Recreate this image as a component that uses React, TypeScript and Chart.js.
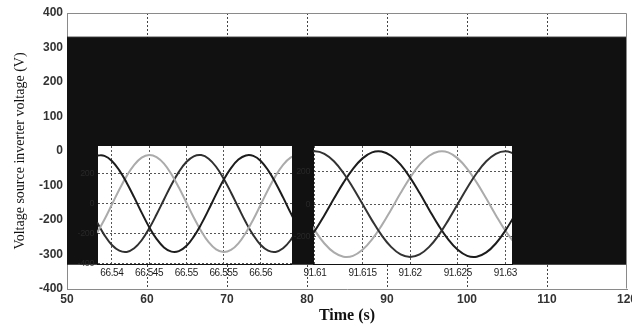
import React, { useEffect, useRef } from "react";
import { Chart, registerables } from "chart.js";
Chart.register(...registerables);

// ---------- main chart data ----------
const mainXMin = 50;
const mainXMax = 120;
const mainYMin = -400;
const mainYMax = 400;
const envelopeTime = [50, 120];
const envelopeUpper = [330, 330];
const envelopeLower = -330;

// ---------- inset 1 (66.54 s zoom) ----------
const inset1Time = [
  66.538, 66.539, 66.54, 66.541, 66.542, 66.543, 66.544, 66.545, 66.546, 66.547,
  66.548, 66.549, 66.55, 66.551, 66.552, 66.553, 66.554, 66.555, 66.556, 66.557,
  66.558, 66.559, 66.56, 66.561, 66.562, 66.563, 66.564, 66.565,
];
const inset1PhaseA = [
  322, 319, 285, 222, 138, 41, -61, -157, -237, -294, -322, -319, -285, -222,
  -138, -41, 61, 157, 237, 294, 322, 319, 285, 222, 138, 41, -61, -157,
];
const inset1PhaseB = [
  -196, -107, -7, 94, 185, 259, 307, 325, 311, 267, 196, 107, 7, -94, -185,
  -259, -307, -325, -311, -267, -196, -107, -7, 94, 185, 259, 307, 325,
];
const inset1PhaseC = [
  -126, -212, -278, -316, -324, -300, -246, -168, -74, 27, 126, 212, 278, 316,
  324, 300, 246, 168, 74, -27, -126, -212, -278, -316, -324, -300, -246, -168,
];
const inset1XTicks = [66.54, 66.545, 66.55, 66.555, 66.56];
const inset1XLabels = ["66.54", "66.545", "66.55", "66.555", "66.56"];
const inset1YTicks = [-400, -200, 0, 200];
const inset1YLabels = ["-400", "-200", "0", "200"];

// ---------- inset 2 (91.61 s zoom) ----------
const inset2Time = [
  91.609, 91.61, 91.611, 91.612, 91.613, 91.614, 91.615, 91.616, 91.617, 91.618,
  91.619, 91.62, 91.621, 91.622, 91.623, 91.624, 91.625, 91.626, 91.627, 91.628,
  91.629, 91.63, 91.631,
];
const inset2PhaseP = [
  309, 325, 309, 263, 191, 100, 0, -100, -191, -263, -309, -325, -309, -263,
  -191, -100, 0, 100, 191, 263, 309, 325, 309,
];
const inset2PhaseQ = [
  -242, -163, -68, 34, 132, 217, 281, 318, 323, 297, 242, 163, 68, -34, -132,
  -217, -281, -318, -323, -297, -242, -163, -68,
];
const inset2PhaseL = [
  -68, -163, -242, -297, -323, -318, -281, -217, -132, -34, 68, 163, 242, 297,
  323, 318, 281, 217, 132, 34, -68, -163, -242,
];
const inset2XTicks = [91.61, 91.615, 91.62, 91.625, 91.63];
const inset2XLabels = ["91.61", "91.615", "91.62", "91.625", "91.63"];
const inset2YTicks = [-200, 0, 200];
const inset2YLabels = ["-200", "0", "200"];

const framePlugin = {
  id: "frame",
  afterDatasetsDraw(chart: any) {
    const { ctx, chartArea } = chart;
    const l = Math.round(chartArea.left) + 0.5;
    const t = Math.round(chartArea.top) + 0.5;
    const r = Math.round(chartArea.right) - 0.5;
    const b = Math.round(chartArea.bottom) - 0.5;
    ctx.save();
    ctx.strokeStyle = "#8a8a8a";
    ctx.lineWidth = 1;
    ctx.beginPath();
    ctx.moveTo(l, t);
    ctx.lineTo(r, t);
    ctx.lineTo(r, b);
    ctx.stroke();
    ctx.restore();
  },
};

const whiteBgPlugin = {
  id: "whiteBg",
  beforeDraw(chart: any) {
    const { ctx, chartArea } = chart;
    if (!chartArea) return;
    ctx.save();
    ctx.fillStyle = "#ffffff";
    ctx.fillRect(chartArea.left, chartArea.top, chartArea.width, chartArea.height);
    ctx.restore();
    try {
      (ctx as any).letterSpacing = "-0.4px";
    } catch (e) {
      /* ignore */
    }
  },
};

const insetFont = "'Liberation Sans', Arial, sans-serif";

function insetConfig(
  times: number[],
  series: number[][],
  colors: string[],
  xMin: number,
  xMax: number,
  yMin: number,
  yMax: number,
  xTicks: number[],
  xLabels: string[],
  yTicks: number[],
  yLabels: string[],
  padRight: number
): any {
  return {
    type: "line",
    data: {
      datasets: series.map((s, j) => ({
        data: times.map((t, i) => ({ x: t, y: s[i] })),
        borderColor: colors[j],
        borderWidth: 2,
        pointRadius: 0,
        tension: 0.4,
        fill: false,
        clip: 0,
      })),
    },
    options: {
      animation: false,
      responsive: false,
      events: [],
      layout: { padding: { left: 0, top: 0, bottom: 0, right: padRight } },
      plugins: { legend: { display: false }, tooltip: { enabled: false } },
      scales: {
        x: {
          type: "linear",
          min: xMin,
          max: xMax,
          afterBuildTicks: (a: any) => {
            a.ticks = xTicks.map((v) => ({ value: v }));
          },
          afterFit: (s: any) => {
            s.height = 18;
            s.paddingLeft = 0;
            s.paddingRight = 0;
            s.paddingTop = 0;
            s.paddingBottom = 0;
          },
          ticks: {
            callback: (_v: any, i: number) => xLabels[i],
            font: { family: insetFont, size: 10 },
            color: "#1e1e1e",
            padding: 3,
            maxRotation: 0,
            autoSkip: false,
          },
          grid: { color: "#555", drawTicks: false, lineWidth: 1 },
          border: { color: "#111", dash: [2, 2] },
        },
        y: {
          min: yMin,
          max: yMax,
          afterBuildTicks: (a: any) => {
            a.ticks = yTicks.map((v) => ({ value: v }));
          },
          afterFit: (s: any) => {
            s.width = 24;
            s.paddingLeft = 0;
            s.paddingRight = 0;
            s.paddingTop = 0;
            s.paddingBottom = 0;
          },
          ticks: {
            callback: (_v: any, i: number) => yLabels[i],
            font: { family: insetFont, size: 9 },
            color: "#282828",
            padding: 3,
            autoSkip: false,
          },
          grid: { color: "#555", drawTicks: false, lineWidth: 1 },
          border: { color: "#111", dash: [2, 2] },
        },
      },
    },
    plugins: [whiteBgPlugin],
  };
}

export default function App() {
  const mainRef = useRef<HTMLCanvasElement | null>(null);
  const in1Ref = useRef<HTMLCanvasElement | null>(null);
  const in2Ref = useRef<HTMLCanvasElement | null>(null);

  useEffect(() => {
    const charts: Chart[] = [];
    if (mainRef.current) {
      charts.push(
        new Chart(mainRef.current, {
          type: "line",
          data: {
            datasets: [
              {
                data: envelopeTime.map((t, i) => ({ x: t, y: envelopeUpper[i] })),
                fill: { value: envelopeLower },
                backgroundColor: "#111111",
                borderColor: "#111111",
                borderWidth: 1,
                pointRadius: 0,
              },
            ],
          },
          options: {
            animation: false,
            responsive: false,
            events: [],
            layout: { padding: { top: 13, right: 18, bottom: 0, left: 0 } },
            plugins: { legend: { display: false }, tooltip: { enabled: false } },
            scales: {
              x: {
                type: "linear",
                min: mainXMin,
                max: mainXMax,
                afterFit: (s: any) => {
                  s.height = 36;
                },
                ticks: {
                  stepSize: 10,
                  font: { family: "'Liberation Sans', Arial, sans-serif", weight: "bold", size: 12 },
                  color: "#333",
                  padding: 3,
                  maxRotation: 0,
                },
                grid: {
                  color: (c: any) =>
                    c.tick && (c.tick.value === mainXMin || c.tick.value === mainXMax)
                      ? "rgba(0,0,0,0)"
                      : "#444",
                  drawTicks: false,
                },
                border: { color: "#8a8a8a", dash: [2, 2] },
                title: {
                  display: true,
                  text: "Time (s)",
                  font: { family: "'Liberation Serif', 'Times New Roman', serif", weight: "bold", size: 16 },
                  color: "#111",
                  padding: 0,
                },
              },
              y: {
                min: mainYMin,
                max: mainYMax,
                afterFit: (s: any) => {
                  s.width = 67;
                },
                ticks: {
                  stepSize: 100,
                  font: { family: "'Liberation Sans', Arial, sans-serif", weight: "bold", size: 12 },
                  color: "#333",
                  padding: 4,
                },
                grid: { display: false, drawTicks: false },
                border: { color: "#8a8a8a" },
                title: {
                  display: true,
                  text: "Voltage source inverter voltage (V)",
                  font: { family: "'Liberation Serif', 'Times New Roman', serif", size: 14 },
                  color: "#111",
                  padding: { top: 12, bottom: 0 },
                },
              },
            },
          },
          plugins: [framePlugin],
        } as any)
      );
    }
    if (in1Ref.current) {
      charts.push(
        new Chart(
          in1Ref.current,
          insetConfig(
            inset1Time,
            [inset1PhaseA, inset1PhaseB, inset1PhaseC],
            ["#1c1c1c", "#ababab", "#303030"],
            66.538,
            66.5642,
            -405,
            385,
            inset1XTicks,
            inset1XLabels,
            inset1YTicks,
            inset1YLabels,
            0
          )
        )
      );
    }
    if (in2Ref.current) {
      charts.push(
        new Chart(
          in2Ref.current,
          insetConfig(
            inset2Time,
            [inset2PhaseP, inset2PhaseQ, inset2PhaseL],
            ["#333333", "#1c1c1c", "#ababab"],
            91.6098,
            91.6307,
            -368,
            357,
            inset2XTicks,
            inset2XLabels,
            inset2YTicks,
            inset2YLabels,
            14
          )
        )
      );
    }
    return () => {
      charts.forEach((c) => c.destroy());
    };
  }, []);

  return (
    <div
      style={{
        position: "fixed",
        left: 0,
        top: 0,
        width: 632,
        height: 325,
        overflow: "hidden",
        background: "#ffffff",
      }}
    >
      <canvas
        ref={mainRef}
        width={645}
        height={325}
        style={{ position: "absolute", left: 0, top: 0, display: "block" }}
      />
      <canvas
        ref={in1Ref}
        width={219}
        height={136}
        style={{ position: "absolute", left: 73, top: 146, display: "block" }}
      />
      <canvas
        ref={in2Ref}
        width={237}
        height={136}
        style={{ position: "absolute", left: 289, top: 146, display: "block" }}
      />
    </div>
  );
}
